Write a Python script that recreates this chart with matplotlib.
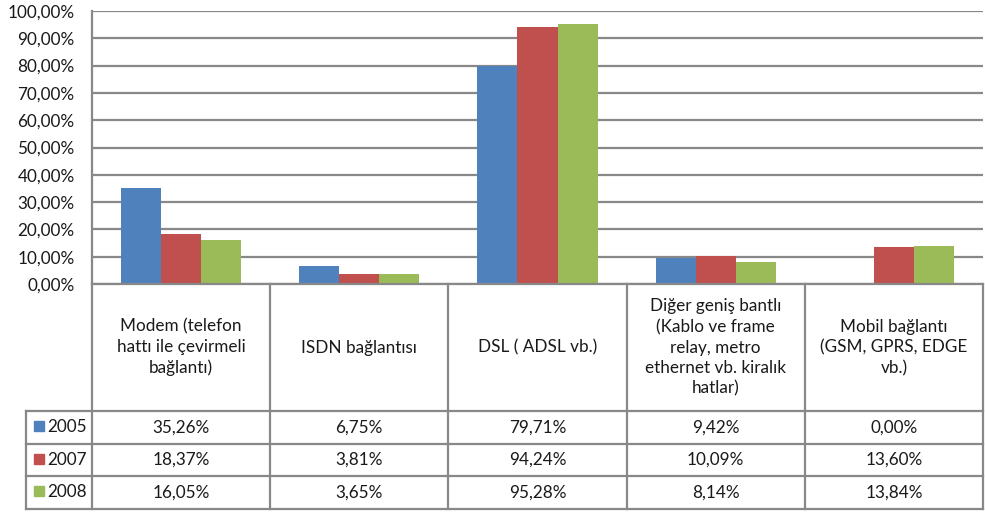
import matplotlib.pyplot as plt
from matplotlib.lines import Line2D
from matplotlib.patches import Rectangle

categories = [
    "Modem (telefon\nhattı ile çevirmeli\nbağlantı)",
    "ISDN bağlantısı",
    "DSL ( ADSL vb.)",
    "Diğer geniş bantlı\n(Kablo ve frame\nrelay, metro\nethernet vb. kiralık\nhatlar)",
    "Mobil bağlantı\n(GSM, GPRS, EDGE\nvb.)",
]
years = ["2005", "2007", "2008"]
v2005 = [35.26, 6.75, 79.71, 9.42, 0.00]
v2007 = [18.37, 3.81, 94.24, 10.09, 13.60]
v2008 = [16.05, 3.65, 95.28, 8.14, 13.84]
series = [v2005, v2007, v2008]
colors = ["#4F81BD", "#C0504D", "#9BBB59"]

plt.rcParams["font.family"] = ["Lato", "DejaVu Sans"]
fs = 12.3
grid_c = "#888888"

W, H = 985, 514
fig = plt.figure(figsize=(W / 100, H / 100), dpi=100)

# pixel layout
left, right = 92, 983
top, zero = 11, 284
head_bot = 411
row_h = 32.5
leg_left = 26

ax = fig.add_axes([left / W, 1 - zero / H, (right - left) / W, (zero - top) / H])
n = len(categories)
bw = 0.225
for i, (vals, c) in enumerate(zip(series, colors)):
    xs = [k + 0.5 + (i - 1) * bw for k in range(n)]
    ax.bar(xs, vals, width=bw, color=c, zorder=3)

ax.set_xlim(0, n)
ax.set_ylim(0, 100)
ax.set_yticks(range(0, 101, 10))
ax.set_yticklabels([f"{t:.2f}%".replace(".", ",") for t in range(0, 101, 10)],
                   fontsize=fs, color="#1a1a1a")
ax.tick_params(axis="y", length=0, pad=12.5)
ax.set_xticks([])
ax.grid(axis="y", color=grid_c, linewidth=1.6, zorder=0)
for s in ["top", "right", "bottom"]:
    ax.spines[s].set_visible(False)
ax.spines["left"].set_color(grid_c)
ax.spines["left"].set_linewidth(1.6)

# data table below the chart
tab = fig.add_axes([0, 0, 1, 1])
tab.set_xlim(0, W)
tab.set_ylim(H, 0)
tab.axis("off")

def hline(y, x0, x1):
    tab.add_line(Line2D([x0, x1], [y, y], color=grid_c, lw=1.6))

def vline(x, y0, y1):
    tab.add_line(Line2D([x, x], [y0, y1], color=grid_c, lw=1.6))

col_x = [left + (right - left) * k / n for k in range(n + 1)]
bottom = head_bot + 3 * row_h

hline(zero, left, right)
hline(head_bot, leg_left, right)
for r in range(1, 4):
    hline(head_bot + r * row_h, leg_left, right)
for x in col_x:
    vline(x, zero, bottom)
vline(leg_left, head_bot, bottom)

for k, cat in enumerate(categories):
    cx = (col_x[k] + col_x[k + 1]) / 2
    tab.text(cx, (zero + head_bot) / 2, cat, ha="center", va="center",
             fontsize=fs, linespacing=1.35, color="#1a1a1a")
    for r, vals in enumerate(series):
        cy = head_bot + (r + 0.5) * row_h
        tab.text(cx, cy, f"{vals[k]:.2f}%".replace(".", ","),
                 ha="center", va="center", fontsize=fs, color="#1a1a1a")

for r, (yr, c) in enumerate(zip(years, colors)):
    cy = head_bot + (r + 0.5) * row_h
    tab.add_patch(Rectangle((34, cy - 6), 10, 10, color=c))
    tab.text(47, cy, yr, ha="left", va="center", fontsize=fs, color="#1a1a1a")

fig.savefig("out.png", dpi=100)
